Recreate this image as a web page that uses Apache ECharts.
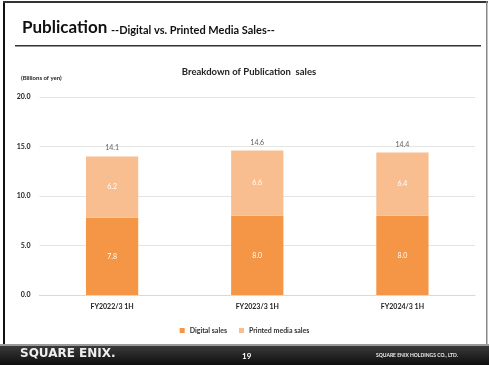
<!DOCTYPE html>
<html>
<head>
<meta charset="utf-8">
<script src="https://cdn.jsdelivr.net/npm/echarts@6/dist/echarts.min.js"></script>
<style>
  html, body { margin: 0; padding: 0; background: #fff; }
  #chart { width: 489px; height: 365px; }
</style>
</head>
<body>
<div id="chart"></div>
<script>
// data
var categories = ['FY2022/3 1H', 'FY2023/3 1H', 'FY2024/3 1H'];
var digitalSales = [7.8, 8.0, 8.0];
var printedSales = [6.2, 6.6, 6.4];
var totals = [14.1, 14.6, 14.4];
var yTicks = [0, 5, 10, 15, 20];

var font = 'Lato, "Open Sans", sans-serif';

var myChart = echarts.init(document.getElementById('chart'));

var option = {
    backgroundColor: '#fff',
    animation: false,
    textStyle: { fontFamily: font },
    title: [{
        text: 'Breakdown of Publication  sales',
        left: 244, top: 62, textAlign: 'center',
        textStyle: { fontSize: 9.5, fontWeight: 'bold', color: '#222', fontFamily: font }
    }, {
        text: '(Billions of yen)',
        left: 16, top: 70,
        textStyle: { fontSize: 6, fontWeight: 'bold', color: '#222', fontFamily: font }
    }],
    legend: {
        data: ['Digital sales', 'Printed media sales'],
        left: 'center', top: 322,
        itemWidth: 5, itemHeight: 5, itemGap: 12,
        icon: 'rect',
        textStyle: { fontSize: 7, fontWeight: 'bold', color: '#333', fontFamily: font }
    },
    grid: { left: 39.5, right: 14, top: 97, bottom: 70, containLabel: false },
    xAxis: {
        type: 'category',
        data: categories,
        axisLine: { lineStyle: { color: '#d9d9d9' } },
        axisTick: { show: false },
        axisLabel: { fontSize: 7, fontWeight: 'bold', color: '#222', margin: 8, fontFamily: font }
    },
    yAxis: {
        type: 'value',
        min: yTicks[0], max: yTicks[yTicks.length - 1], interval: 5,
        axisLine: { show: false },
        axisTick: { show: false },
        splitLine: { lineStyle: { color: '#e4e4e4', width: 1 } },
        axisLabel: {
            fontSize: 7, fontWeight: 'bold', color: '#222', margin: 9, fontFamily: font,
            formatter: function (v) { return v.toFixed(1); }
        }
    },
    series: [{
        name: 'Digital sales',
        type: 'bar',
        stack: 'sales',
        barWidth: '36%',
        data: digitalSales,
        itemStyle: { color: '#F59647' },
        label: {
            show: true, position: 'inside', color: '#fff', fontSize: 7, fontFamily: font,
            formatter: function (p) { return p.value.toFixed(1); }
        }
    }, {
        name: 'Printed media sales',
        type: 'bar',
        stack: 'sales',
        data: printedSales,
        itemStyle: { color: '#F8BE8F' },
        label: {
            show: true, position: 'inside', color: '#fff', fontSize: 7, fontFamily: font,
            formatter: function (p) { return p.value.toFixed(1); }
        }
    }, {
        name: 'total',
        type: 'scatter',
        data: totals,
        symbolSize: 0,
        silent: true,
        label: {
            show: true, position: 'top', distance: 4, color: '#333', fontSize: 7, fontFamily: font,
            formatter: function (p) { return p.value.toFixed(1); }
        }
    }],
    graphic: [
        // slide frame
        { type: 'rect', shape: { x: 3, y: 1, width: 2, height: 345 }, style: { fill: '#111' } },
        { type: 'rect', shape: { x: 3, y: 1, width: 485, height: 2 }, style: { fill: '#333' } },
        { type: 'rect', shape: { x: 486, y: 1, width: 1.5, height: 345 }, style: { fill: '#888' } },
        // heading
        { type: 'text', left: 22, top: 19,
          style: { text: 'Publication', font: 'bold 17px ' + font, fill: '#111' } },
        { type: 'text', left: 111, top: 25,
          style: { text: '--Digital vs. Printed Media Sales--', font: 'bold 11px ' + font, fill: '#111' } },
        { type: 'rect', shape: { x: 15, y: 45, width: 466, height: 1.5 }, style: { fill: '#333' } },
        // footer
        { type: 'rect', shape: { x: 0, y: 344, width: 489, height: 2 }, style: { fill: '#9a9a9a' } },
        { type: 'rect', shape: { x: 0, y: 346, width: 489, height: 19 },
          style: { fill: new echarts.graphic.LinearGradient(0, 0, 0, 1, [
              { offset: 0, color: '#3a3a3a' }, { offset: 1, color: '#0e0e0e' }]) } },
        { type: 'text', left: 20, top: 348,
          style: { text: 'SQUARE ENIX.', font: 'bold 12px "DejaVu Sans", sans-serif', fill: '#eee' } },
        { type: 'text', left: 242, top: 352,
          style: { text: '19', font: 'bold 8px ' + font, fill: '#fff' } },
        { type: 'text', left: 376, top: 353,
          style: { text: 'SQUARE ENIX HOLDINGS CO., LTD.', font: 'bold 5px ' + font, fill: '#eee' } }
    ]
};

myChart.setOption(option);
</script>
</body>
</html>
